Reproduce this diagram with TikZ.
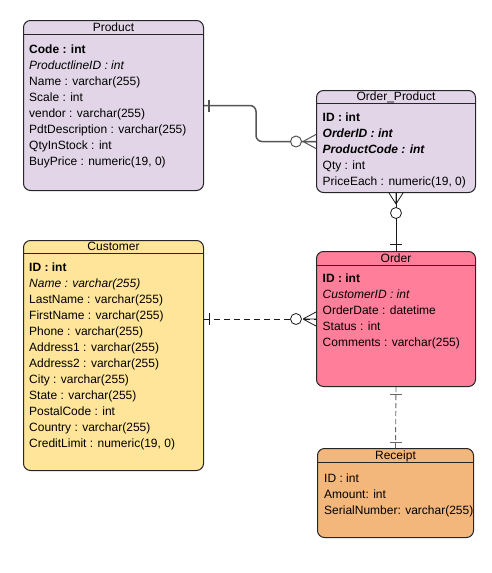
\documentclass[tikz,border=0pt]{standalone}
\usepackage{fontspec}
\setmainfont{Liberation Sans}
\usepackage{xcolor}
\usepackage{tikz}
\definecolor{lavender}{HTML}{E1D5E7}
\definecolor{sand}{HTML}{FFE599}
\definecolor{rose}{HTML}{FF7F9B}
\definecolor{apricot}{HTML}{F4B77B}
\definecolor{wire}{HTML}{555555}
\definecolor{wirelight}{HTML}{666666}

\begin{document}
\begin{tikzpicture}[x=1pt,y=-1pt,
          every node/.style={font=\fontsize{12}{16}\selectfont},
          entity/.style={draw=black!85,line width=1pt,rounded corners=7pt,
                         anchor=north west,inner sep=0pt},
          header/.style={draw=black!85,line width=0.8pt},
          title/.style={anchor=base,inner sep=0pt},
          fields/.style={align=left,anchor=north west,inner sep=0pt},
          rel/.style={line width=0.8pt,draw=black!90},
          relgray/.style={line width=1.5pt,draw=wire},
          reldash/.style={rel,dash pattern=on 6pt off 4pt},
          reldashgray/.style={line width=0.9pt,draw=wirelight,dash pattern=on 5pt off 3pt},
      ]
        \useasboundingbox (0,0) rectangle (491,573);

        % entities
        \node[entity,fill=lavender,minimum width=180pt,minimum height=170pt] (product) at (23,20) {};
        \draw[header] ([yshift=-14pt]product.north west) -- ([yshift=-14pt]product.north east);
        \node[title] at ([yshift=-11pt]product.north) {Product};
        \node[fields] (productfields) at ([xshift=6pt,yshift=-24.7pt]product.north west)
          {\textbf{Code : int}\\
           \textit{ProductlineID : int}\\
           Name : varchar(255)\\
           Scale : int\\
           vendor : varchar(255)\\
           PdtDescription : varchar(255)\\
           QtyInStock : int\\
           BuyPrice : numeric(19, 0)};

        \node[entity,fill=lavender,minimum width=159pt,minimum height=102pt] (orderproduct) at (316,90) {};
        \draw[header] ([yshift=-13pt]orderproduct.north west) -- ([yshift=-13pt]orderproduct.north east);
        \node[title] at ([yshift=-10.5pt]orderproduct.north) {Order\_Product};
        \node[fields] (orderproductfields) at ([xshift=6.5pt,yshift=-22.7pt]orderproduct.north west)
          {\textbf{ID : int}\\
           \textbf{\textit{OrderID : int}}\\
           \textbf{\textit{ProductCode : int}}\\
           Qty : int\\
           PriceEach : numeric(19, 0)};

        \node[entity,fill=sand,minimum width=180pt,minimum height=230pt] (customer) at (23,240) {};
        \draw[header] ([yshift=-13pt]customer.north west) -- ([yshift=-13pt]customer.north east);
        \node[title] at ([yshift=-10.5pt]customer.north) {Customer};
        \node[fields] (customerfields) at ([xshift=6pt,yshift=-22.7pt]customer.north west)
          {\textbf{ID : int}\\
           \textit{Name : varchar(255)}\\
           LastName : varchar(255)\\
           FirstName : varchar(255)\\
           Phone : varchar(255)\\
           Address1 : varchar(255)\\
           Address2 : varchar(255)\\
           City : varchar(255)\\
           State : varchar(255)\\
           PostalCode : int\\
           Country : varchar(255)\\
           CreditLimit : numeric(19, 0)};

        \node[entity,fill=rose,minimum width=159pt,minimum height=135pt] (order) at (316,251) {};
        \draw[header] ([yshift=-14pt]order.north west) -- ([yshift=-14pt]order.north east);
        \node[title] at ([yshift=-11pt]order.north) {Order};
        \node[fields] (orderfields) at ([xshift=6.5pt,yshift=-22.7pt]order.north west)
          {\textbf{ID : int}\\
           \textit{CustomerID : int}\\
           OrderDate : datetime\\
           Status : int\\
           Comments : varchar(255)};

        \node[entity,fill=apricot,minimum width=156pt,minimum height=89pt] (receipt) at (317,448) {};
        \draw[header] ([yshift=-14pt]receipt.north west) -- ([yshift=-14pt]receipt.north east);
        \node[title] at ([yshift=-11pt]receipt.north) {Receipt};
        \node[fields] (receiptfields) at ([xshift=7pt,yshift=-25.7pt]receipt.north west)
          {ID : int\\
           Amount: int\\
           SerialNumber: varchar(255)};

        % Product -- Order_Product
        \draw[relgray,rounded corners=6pt] (product.east) -- ++(52,0) |- (orderproduct.west);
        \draw[relgray,line width=1.1pt] ([xshift=5pt]product.east) ++(0,-6) -- ++(0,12);
        \draw[relgray,line width=1pt] ([xshift=-13pt]orderproduct.west) -- ++(13,-7)
          ([xshift=-13pt]orderproduct.west) -- (orderproduct.west)
          ([xshift=-13pt]orderproduct.west) -- ++(13,7);
        \draw[relgray,line width=1pt,fill=white] ([xshift=-20pt]orderproduct.west) circle[radius=5.5pt];

        % Order_Product -- Order
        \draw[rel] (orderproduct.south) -- (order.north);
        \draw[rel] ([yshift=-11pt]orderproduct.south) -- ++(-7,-11)
          ([yshift=-11pt]orderproduct.south) -- (orderproduct.south)
          ([yshift=-11pt]orderproduct.south) -- ++(7,-11);
        \draw[rel,fill=white] ([yshift=-20pt]orderproduct.south) circle[radius=5.5pt];
        \draw[rel] ([yshift=7pt]order.north) ++(-6,0) -- ++(12,0);

        % Customer -- Order
        \coordinate (customerjoin) at (customer.east |- order.west);
        \draw[reldash] (customerjoin) -- (order.west);
        \draw[rel] ([xshift=5pt]customerjoin) ++(0,-6) -- ++(0,12);
        \draw[rel] ([xshift=-13pt]order.west) -- ++(13,-7)
          ([xshift=-13pt]order.west) -- (order.west)
          ([xshift=-13pt]order.west) -- ++(13,7);
        \draw[rel,fill=white] ([xshift=-20pt]order.west) circle[radius=5.5pt];

        % Order -- Receipt
        \draw[reldashgray] (order.south) -- (receipt.north);
        \draw[reldashgray,solid] ([yshift=-7pt]order.south) ++(-6,0) -- ++(12,0);
        \draw[reldashgray,solid] ([yshift=6pt]receipt.north) ++(-6,0) -- ++(12,0);
      \end{tikzpicture}
\end{document}
